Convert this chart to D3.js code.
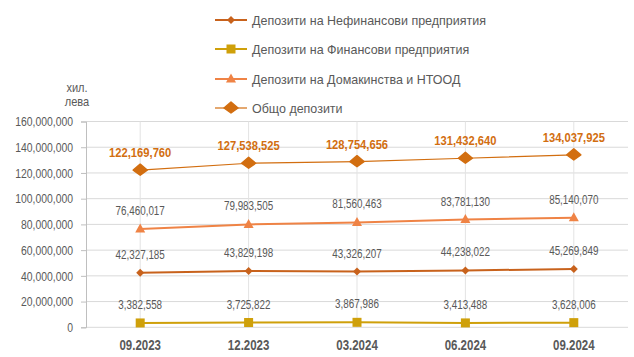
<!DOCTYPE html>
<html><head><meta charset="utf-8">
<script src="https://cdn.jsdelivr.net/npm/d3@7"></script>
<style>body{margin:0;background:#fff}svg{display:block}</style>
</head><body>
<svg id="c" width="634" height="357"></svg>
<script>
const categories = ["09.2023","12.2023","03.2024","06.2024","09.2024"];
const nonFinancial = [42327185, 43829198, 43326207, 44238022, 45269849];
const financial = [3382558, 3725822, 3867986, 3413488, 3628006];
const households = [76460017, 79983505, 81560463, 83781130, 85140070];
const total = [122169760, 127538525, 128754656, 131432640, 134037925];
const yTicks = [0,20000000,40000000,60000000,80000000,100000000,120000000,140000000,160000000];
const seriesNames = ["Депозити на Нефинансови предприятия","Депозити на Финансови предприятия","Депозити на Домакинства и НТООД","Общо депозити"];

const FONT = "'Liberation Sans',Arial,sans-serif";
const svg = d3.select("#c");
const x = d3.scaleBand().domain(categories).range([86, 628]);
const cx = c => x(c) + x.bandwidth()/2;
const y = d3.scaleLinear().domain([0,160000000]).range([327.3, 121.5]);
const fmt = d3.format(",");

function narrow(f){
  return sel => sel.each(function(){
    const w = this.getComputedTextLength();
    d3.select(this).attr("textLength", w*f).attr("lengthAdjust","spacingAndGlyphs");
  });
}

// gridlines
svg.append("g").selectAll("line").data(yTicks.slice(1)).join("line")
  .attr("x1",86).attr("x2",628).attr("y1",d=>y(d)).attr("y2",d=>y(d))
  .attr("stroke","#d9d9d9").attr("stroke-width",1);
svg.append("g").selectAll("line").data(categories).join("line")
  .attr("x1",cx).attr("x2",cx).attr("y1",y(160000000)).attr("y2",y(0))
  .attr("stroke","#e3e3e3").attr("stroke-width",1);
svg.append("line").attr("x1",86).attr("x2",628).attr("y1",y(0)).attr("y2",y(0)).attr("stroke","#d9d9d9");

// y axis
const yAxis = d3.axisLeft(y).tickValues(yTicks).tickFormat(fmt).tickSize(5).tickPadding(8);
const ya = svg.append("g").attr("transform","translate(86,0)").call(yAxis);
ya.select(".domain").attr("stroke","#bfbfbf");
ya.selectAll(".tick line").attr("stroke","#bfbfbf");
ya.selectAll("text").attr("fill","#595959").style("font-family",FONT).style("font-size","13px").call(narrow(0.8));

// x axis labels
const xa = svg.append("g").attr("transform",`translate(0,${y(0)})`).call(d3.axisBottom(x).tickSize(0).tickPadding(13));
xa.select(".domain").remove();
xa.selectAll("text").attr("fill","#595959").style("font-family",FONT).style("font-size","14px").style("font-weight","bold").call(narrow(0.82));

// unit label
svg.append("text").attr("x",77).attr("y",92).attr("text-anchor","middle").attr("fill","#595959")
  .style("font-family",FONT).style("font-size","13px").text("хил.").call(narrow(0.85));
svg.append("text").attr("x",77).attr("y",106).attr("text-anchor","middle").attr("fill","#595959")
  .style("font-family",FONT).style("font-size","13px").text("лева").call(narrow(0.85));

const series = [
  {name:seriesNames[0], values:nonFinancial, color:"#C8621C", width:2, marker:"diamondS", labelColor:"#595959", bold:false, dy:-14},
  {name:seriesNames[1], values:financial, color:"#CFA00A", width:2, marker:"square", labelColor:"#595959", bold:false, dy:-14},
  {name:seriesNames[2], values:households, color:"#EF8345", width:2, marker:"triangle", labelColor:"#595959", bold:false, dy:-14},
  {name:seriesNames[3], values:total, color:"#D26E10", width:1.2, marker:"diamondL", labelColor:"#D26E10", bold:true, dy:-13}
];

function drawMarker(g, type, px, py, color){
  if(type==="diamondS"){
    g.append("path").attr("d",`M${px},${py-4}L${px+4},${py}L${px},${py+4}L${px-4},${py}Z`).attr("fill",color);
  } else if(type==="square"){
    g.append("rect").attr("x",px-4.5).attr("y",py-4.5).attr("width",9).attr("height",9).attr("fill",color);
  } else if(type==="triangle"){
    g.append("path").attr("d",`M${px},${py-5.5}L${px+5},${py+3.5}L${px-5},${py+3.5}Z`).attr("fill",color);
  } else {
    g.append("path").attr("d",`M${px},${py-6}L${px+7},${py}L${px},${py+5}L${px-7},${py}Z`)
      .attr("fill",color).attr("stroke",color).attr("stroke-width",1.5).attr("stroke-linejoin","round");
  }
}

const line = d3.line().x((d,i)=>cx(categories[i])).y(d=>y(d));
series.forEach(s=>{
  svg.append("path").datum(s.values).attr("d",line).attr("fill","none")
    .attr("stroke",s.color).attr("stroke-width",s.width);
  const g = svg.append("g");
  s.values.forEach((v,i)=>drawMarker(g,s.marker,cx(categories[i]),y(v),s.color));
  svg.append("g").selectAll("text").data(s.values).join("text")
    .attr("x",(d,i)=>cx(categories[i])).attr("y",d=>y(d)+s.dy)
    .attr("text-anchor","middle").attr("fill",s.labelColor)
    .style("font-family",FONT).style("font-size",s.bold?"13px":"12px")
    .style("font-weight",s.bold?"bold":"normal").text(d=>fmt(d)).call(narrow(s.bold?0.86:0.82));
});

// legend
const legY = [20,49,79,108];
series.forEach((s,i)=>{
  const g = svg.append("g");
  g.append("line").attr("x1",215).attr("x2",247).attr("y1",legY[i]).attr("y2",legY[i])
    .attr("stroke",s.color).attr("stroke-width",s.width);
  drawMarker(g,s.marker,231,legY[i],s.color);
  g.append("text").attr("x",252).attr("y",legY[i]+5).attr("fill","#595959")
    .style("font-family",FONT).style("font-size","13px").text(s.name).call(narrow(0.96));
});
</script>
</body></html>
